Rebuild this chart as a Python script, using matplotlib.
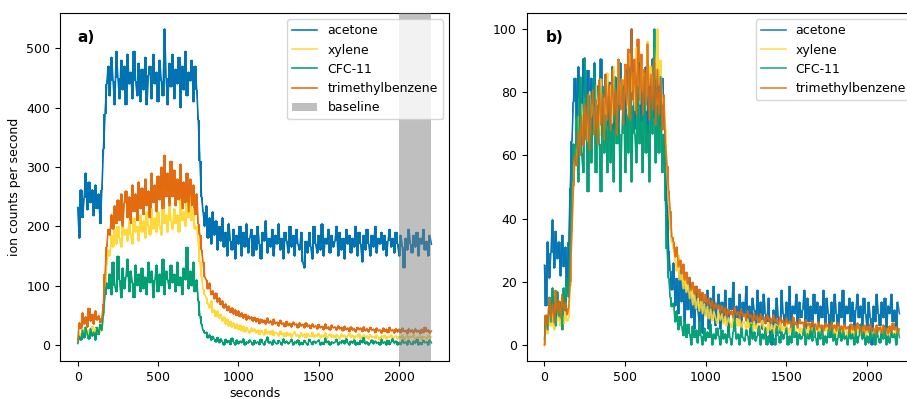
import numpy as np
import matplotlib
matplotlib.use("Agg")
import matplotlib.pyplot as plt

# sample times (s), one reading every 10 s
seconds = np.arange(0, 2201, 10)

# ion counts per second, read off panel a)
acetone = [
    232, 180, 262, 215, 248, 290, 228, 275, 240, 262,
    218, 270, 230, 255, 205, 262, 330, 390, 440, 470,
    420, 485, 445, 405, 495, 450, 415, 480, 430, 470,
    405, 490, 440, 460, 415, 495, 445, 420, 475, 410,
    465, 430, 485, 405, 455, 470, 415, 490, 440, 460,
    410, 480, 445, 420, 533, 450, 405, 475, 435, 490,
    415, 465, 440, 485, 400, 470, 430, 495, 420, 460,
    445, 480, 410, 470, 430, 380, 310, 250, 225, 200,
    235, 180, 215, 170, 225, 185, 210, 160, 200, 175,
    215, 165, 190, 150, 205, 175, 160, 195, 145, 185,
    170, 200, 150, 190, 165, 205, 155, 180, 195, 150,
    185, 160, 200, 170, 145, 190, 175, 210, 155, 180,
    165, 195, 150, 185, 170, 205, 160, 180, 145, 190,
    175, 155, 200, 165, 185, 150, 195, 170, 160, 190,
    140, 130, 175, 155, 190, 165, 145, 200, 170, 155,
    185, 160, 205, 150, 180, 170, 195, 155, 185, 165,
    175, 200, 150, 190, 160, 180, 145, 195, 170, 185,
    155, 180, 165, 200, 150, 190, 170, 140, 185, 160,
    195, 170, 150, 185, 165, 200, 155, 180, 170, 190,
    160, 185, 150, 175, 195, 165, 180, 155, 190, 170,
    150, 185, 165, 130, 180, 160, 195, 170, 155, 185,
    165, 190, 150, 180, 170, 195, 160, 175, 150, 185,
    170,
]

xylene = [
    3, 20, 12, 28, 18, 30, 15, 25, 22, 32,
    18, 28, 20, 30, 22, 25, 50, 95, 135, 160,
    150, 185, 165, 195, 170, 200, 180, 165, 205, 185,
    195, 175, 210, 185, 170, 215, 190, 200, 175, 220,
    190, 210, 180, 225, 200, 185, 230, 195, 215, 190,
    225, 200, 185, 235, 205, 220, 190, 240, 210, 195,
    230, 205, 220, 190, 245, 210, 225, 200, 240, 215,
    255, 210, 230, 195, 200, 175, 140, 115, 95, 85,
    80, 70, 62, 75, 55, 60, 48, 58, 45, 52,
    40, 48, 35, 44, 32, 40, 30, 38, 28, 36,
    26, 34, 24, 32, 22, 30, 25, 20, 29, 23,
    28, 20, 26, 18, 25, 21, 17, 27, 19, 24,
    18, 25, 16, 22, 20, 15, 24, 17, 21, 14,
    22, 16, 20, 13, 19, 23, 15, 18, 12, 21,
    15, 19, 12, 20, 16, 14, 22, 13, 18, 15,
    20, 12, 17, 14, 21, 11, 16, 19, 13, 17,
    12, 18, 15, 10, 19, 14, 17, 11, 16, 20,
    13, 17, 10, 16, 14, 19, 11, 15, 18, 12,
    16, 10, 18, 13, 15, 11, 17, 14, 9, 16,
    12, 17, 10, 15, 13, 18, 11, 14, 16, 10,
    15, 12, 17, 9, 14, 16, 11, 15, 13, 18,
    10, 14, 12, 16, 9, 15, 13, 11, 17, 12,
    14,
]

cfc11 = [
    3, 15, 8, 25, 12, 30, 18, 10, 28, 15,
    22, 8, 30, 18, 35, 25, 55, 85, 105, 95,
    120, 85, 140, 100, 90, 150, 110, 80, 130, 95,
    115, 145, 90, 125, 105, 80, 135, 100, 120, 90,
    130, 95, 115, 85, 140, 105, 125, 80, 110, 135,
    90, 120, 100, 145, 85, 125, 110, 95, 135, 105,
    120, 90, 140, 100, 115, 85, 130, 110, 165, 95,
    125, 100, 140, 90, 110, 75, 50, 35, 25, 20,
    22, 12, 18, 8, 15, 10, 5, 13, 4, 11,
    6, 0, 10, 4, 8, 1, 12, 5, 0, 9,
    2, 7, 4, 11, 0, 6, 3, 9, 5, 0,
    8, 3, 6, 1, 10, 4, 0, 7, 14, 3,
    6, 0, 9, 4, 2, 8, 5, 0, 11, 3,
    7, 2, 5, 10, 0, 6, 3, 9, 0, 5,
    1, 8, 4, 0, 10, 5, 1, 7, 3, 6,
    9, 0, 5, 1, 12, 4, 7, 0, 6, 3,
    5, 10, 0, 6, 3, 8, 2, 11, 4, 0,
    7, 3, 9, 0, 5, 1, 8, 4, 13, 2,
    6, 0, 4, 9, 2, 7, 3, 5, 0, 10,
    3, 6, 0, 8, 1, 5, 11, 3, 7, 0,
    5, 1, 9, 3, 6, 0, 8, 4, 1, 7,
    3, 10, 0, 5, 1, 8, 4, 6, 0, 9,
    4,
]

trimethylbenzene = [
    8, 38, 28, 55, 35, 48, 30, 62, 40, 52,
    35, 58, 42, 50, 38, 45, 70, 120, 165, 195,
    185, 220, 195, 235, 205, 245, 210, 255, 200, 240,
    260, 215, 250, 205, 270, 225, 255, 210, 275, 230,
    265, 220, 280, 235, 260, 215, 290, 240, 270, 225,
    285, 245, 300, 230, 320, 250, 290, 235, 310, 250,
    295, 235, 280, 245, 305, 230, 275, 240, 290, 225,
    280, 235, 270, 220, 255, 205, 185, 160, 140, 115,
    110, 95, 105, 85, 92, 78, 88, 72, 80, 68,
    75, 62, 70, 58, 66, 55, 63, 52, 60, 50,
    58, 48, 55, 45, 52, 42, 50, 44, 48, 40,
    47, 39, 45, 36, 44, 38, 42, 35, 46, 37,
    41, 34, 44, 36, 39, 32, 42, 35, 38, 31,
    40, 33, 37, 30, 39, 34, 36, 29, 38, 32,
    35, 29, 38, 31, 34, 28, 36, 30, 33, 27,
    35, 29, 32, 26, 36, 28, 31, 25, 34, 29,
    31, 25, 33, 27, 30, 24, 32, 26, 29, 23,
    31, 25, 28, 22, 30, 26, 29, 23, 31, 24,
    28, 22, 30, 25, 27, 21, 29, 24, 26, 20,
    29, 23, 27, 21, 30, 24, 26, 20, 28, 22,
    27, 21, 29, 23, 25, 19, 28, 22, 26, 20,
    28, 22, 25, 19, 27, 21, 30, 23, 26, 20,
    24,
]

labels = ["acetone", "xylene", "CFC-11", "trimethylbenzene"]
series = [acetone, xylene, cfc11, trimethylbenzene]
colors = ["#0072B2", "#FFD83A", "#009E73", "#E36A0E"]
baseline_window = (2000, 2200)

plt.rcParams["font.size"] = 9


def noisy_trace(ax, y, color, label, alpha):
    # the raw signal is dense, so shade the spread between neighbouring
    # readings and draw the trace itself on top
    y = np.asarray(y, dtype=float)
    lo = np.minimum(y[:-1], y[1:])
    hi = np.maximum(y[:-1], y[1:])
    ax.fill_between(seconds[:-1], lo, hi, step="post", color=color,
                    alpha=alpha, lw=0)
    ax.plot(seconds, y, color=color, lw=1.2, alpha=alpha, label=label)


fig = plt.figure(figsize=(9.07, 3.99), dpi=100)
ax_a = fig.add_axes([0.0662, 0.0952, 0.4289, 0.8722])
ax_b = fig.add_axes([0.5807, 0.0952, 0.4305, 0.8722])

# a) raw counts
for name, vals, c in zip(labels, series, colors):
    noisy_trace(ax_a, vals, c, name, 0.95)
ax_a.axvspan(*baseline_window, color="grey", alpha=0.5, lw=0,
             label="baseline", zorder=3)
ax_a.set_xlabel("seconds", labelpad=2)
ax_a.set_ylabel("ion counts per second")
ax_a.set_yticks([0, 100, 200, 300, 400, 500])
ax_a.legend(loc="upper right")
ax_a.text(0.045, 0.93, "a)", transform=ax_a.transAxes, fontsize=11,
          fontweight="bold", va="center")

# b) min-max normalised to percent
for name, vals, c in zip(labels, series, colors):
    v = np.asarray(vals, dtype=float)
    norm = (v - v.min()) / (v.max() - v.min()) * 100
    noisy_trace(ax_b, norm, c, name, 0.85)
ax_b.set_yticks([0, 20, 40, 60, 80, 100])
ax_b.legend(loc="upper right")
ax_b.text(0.05, 0.93, "b)", transform=ax_b.transAxes, fontsize=11,
          fontweight="bold", va="center")

for ax in (ax_a, ax_b):
    ax.set_xticks([0, 500, 1000, 1500, 2000])

fig.savefig("out.png", dpi=100)
